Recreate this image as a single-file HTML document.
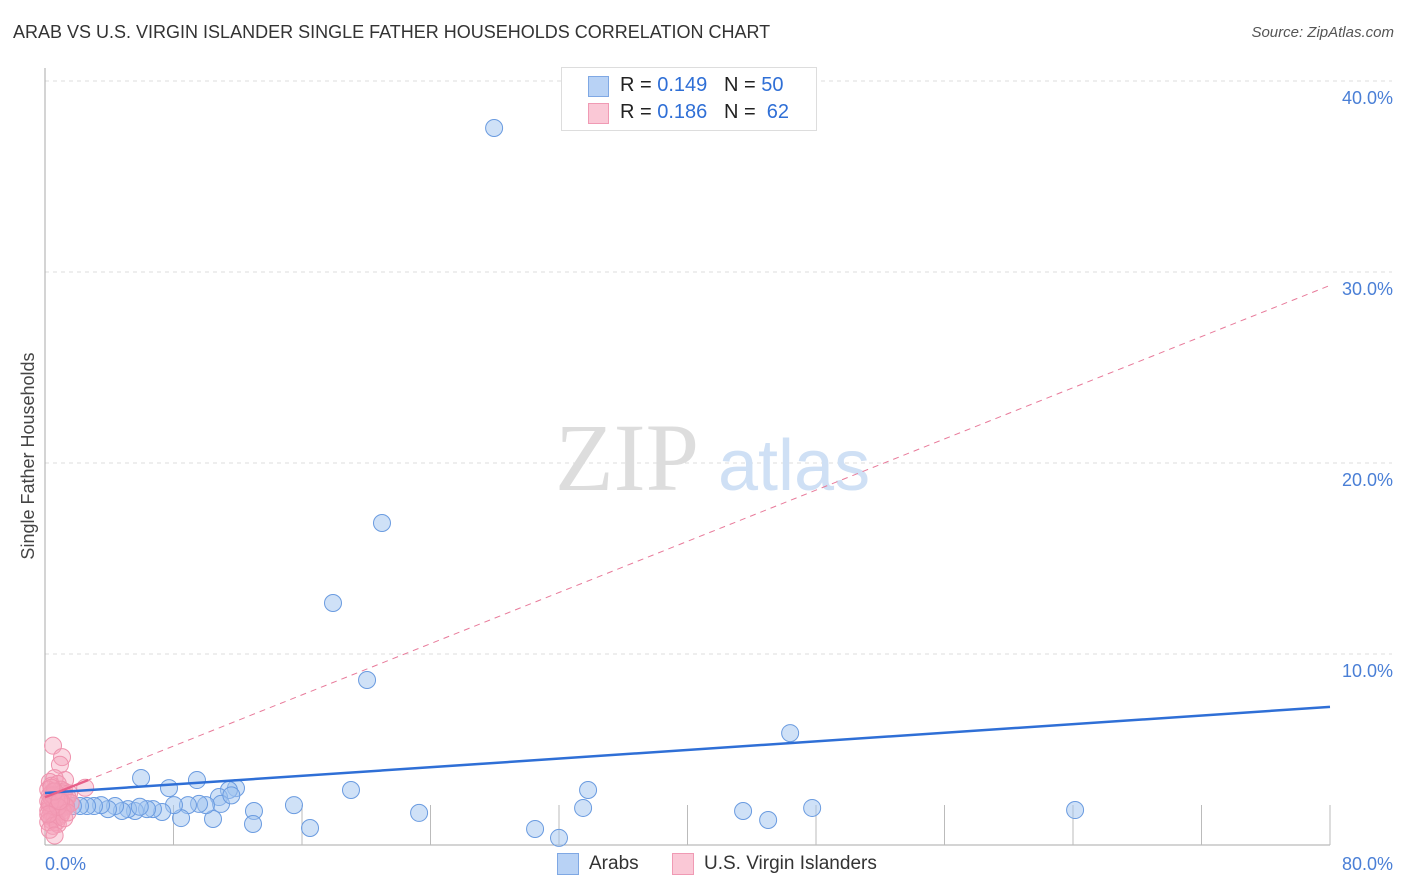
<!DOCTYPE html>
<html><head><meta charset="utf-8"><style>
body{margin:0;background:#fff;font-family:"Liberation Sans",sans-serif;}
#wrap{position:relative;width:1406px;height:892px;overflow:hidden;}
.t{position:absolute;white-space:nowrap;}
</style></head><body>
<div id="wrap">
<div class="t" style="left:13px;top:22px;font-size:18px;color:#333;">ARAB VS U.S. VIRGIN ISLANDER SINGLE FATHER HOUSEHOLDS CORRELATION CHART</div>
<div class="t" style="right:12px;top:24px;font-size:15px;color:#555;font-style:italic;">Source: ZipAtlas.com</div>
<svg id="svg" width="1406" height="892" style="position:absolute;left:0;top:0"></svg>
</div>
<script>
const xTicks=[0,8,16,24,32,40,48,56,64,72,80];
const yTicks=[10,20,30,40];
const arabX=[27.96,20.98,17.93,20.05,46.39,64.13,47.76,43.46,45.02,33.81,33.5,30.51,32.0,23.29,19.05,16.5,15.5,13.01,12.95,11.89,11.45,10.83,10.96,10.46,10.02,9.59,9.46,8.9,8.47,8.03,7.72,7.29,6.72,6.35,5.98,5.6,5.17,4.79,4.36,3.92,3.49,3.05,2.62,2.18,1.74,1.31,0.93,0.62,5.9,11.6];
const arabY=[37.54,16.86,12.67,8.64,5.86,1.83,1.94,1.78,1.31,2.88,1.94,0.84,0.37,1.68,2.88,0.89,2.09,1.78,1.1,2.98,2.88,2.51,2.15,1.36,2.09,2.15,3.4,2.09,1.41,2.09,2.98,1.73,1.88,1.88,3.51,1.78,1.88,1.78,2.04,1.88,2.09,2.04,2.04,2.04,2.04,2.04,2.25,2.09,2.0,2.6];
const vX=[0.5,1.06,0.93,2.5,1.25,0.6,0.3,0.4,0.8,1.0,1.2,1.5,0.2,0.5,0.7,0.9,1.1,1.3,0.3,0.6,0.8,1.0,1.4,0.2,0.4,0.6,0.9,1.2,1.6,0.3,0.5,0.7,1.0,1.3,0.2,0.4,0.8,1.1,0.5,0.9,0.3,0.6,1.0,0.4,0.7,0.2,0.5,0.8,1.2,0.3,0.6,1.0,0.4,0.7,0.5,0.3,0.8,0.6,0.4,1.4,0.2,0.9];
const vY=[5.2,4.6,4.2,3.0,3.4,3.5,3.3,3.1,3.2,2.9,2.8,2.7,2.9,2.8,2.6,2.5,2.7,2.4,2.6,2.4,2.3,2.2,2.5,2.3,2.2,2.1,2.0,2.1,2.2,2.0,1.9,1.8,1.9,2.0,1.8,1.7,1.7,1.8,1.6,1.5,1.5,1.4,1.6,1.3,1.2,1.2,1.0,1.1,1.4,0.8,0.5,2.3,2.5,2.4,2.6,2.2,2.0,2.8,3.0,1.7,1.6,2.3];
const arabLine=[2.72,7.23];
const viLine=[2.5,29.3];
const svg=document.getElementById('svg');
const NS='http://www.w3.org/2000/svg';
const X=v=>45+v/80*1285, Y=v=>845-v*19.1;
function mk(tag,a){const e=document.createElementNS(NS,tag);for(const k in a)e.setAttribute(k,a[k]);svg.appendChild(e);return e;}
let e;
for(const t of yTicks){
 e=mk('line',{x1:45,x2:1392,y1:Y(t),y2:Y(t),stroke:'#ddd','stroke-dasharray':'4,4'});
 
 
 e=mk('text',{x:1393,y:Y(t)+23,'text-anchor':'end','font-size':18,fill:'#4a7fd6','font-family':'Liberation Sans'});
 e.textContent=t.toFixed(1)+'%';
 
 
}
e=mk('line',{x1:45,x2:45,y1:68,y2:845,stroke:'#aaa'});


e=mk('line',{x1:45,x2:1330,y1:845,y2:845,stroke:'#aaa'});


for(const t of xTicks.slice(1)){
 e=mk('line',{x1:X(t),x2:X(t),y1:805,y2:845,stroke:'#bbb'});
 
 
}
e=mk('text',{x:45,y:870,'font-size':18,fill:'#4a7fd6','font-family':'Liberation Sans'});e.textContent=xTicks[0].toFixed(1)+'%';


e=mk('text',{x:1393,y:870,'text-anchor':'end','font-size':18,fill:'#4a7fd6','font-family':'Liberation Sans'});e.textContent=xTicks[xTicks.length-1].toFixed(1)+'%';


e=mk('text',{x:0,y:0,'font-size':18,fill:'#444','font-family':'Liberation Sans','text-anchor':'middle',transform:'translate(34,456) rotate(-90)'});e.textContent='Single Father Households';


e=mk('text',{x:555,y:490,'font-size':96,fill:'#ddd','font-family':'Liberation Serif'});e.textContent='ZIP';


e=mk('text',{x:718,y:490,'font-size':72,fill:'#cfe0f5','font-family':'Liberation Sans'});e.textContent='atlas';


e=mk('line',{x1:X(0),y1:Y(viLine[0]),x2:X(80),y2:Y(viLine[1]),stroke:'#e87a9a','stroke-dasharray':'6,5','stroke-width':1});


for(let i=0;i<arabX.length;i++){
 e=mk('circle',{cx:X(arabX[i]),cy:Y(arabY[i]),r:8.5,fill:'rgba(160,195,240,0.5)',stroke:'#6a9be0','stroke-width':1});
 
 
}
for(let i=0;i<vX.length;i++){
 e=mk('circle',{cx:X(vX[i]),cy:Y(vY[i]),r:8.5,fill:'rgba(245,160,185,0.4)',stroke:'#ef93ae','stroke-width':1});
 
 
}
e=mk('line',{x1:X(0),y1:Y(arabLine[0]),x2:X(80),y2:Y(arabLine[1]),stroke:'#2f6fd6','stroke-width':2.5});


e=mk('line',{x1:X(0),y1:Y(viLine[0]),x2:X(2.7),y2:Y(viLine[0]+(viLine[1]-viLine[0])*2.7/80),stroke:'#e8608a','stroke-width':2.5});


</script>
<div class="t" style="left:561px;top:67px;width:254px;height:62px;border:1px solid #ddd;background:#fff;"></div>
<div class="t" style="left:588px;top:76px;width:19px;height:19px;background:#b8d2f5;border:1px solid #7fa8e4;"></div>
<div class="t" style="left:620px;top:74px;font-size:20px;color:#222;">R = <span style="color:#2f6fd6">0.149</span>&nbsp;&nbsp;&nbsp;N = <span style="color:#2f6fd6">50</span></div>
<div class="t" style="left:588px;top:103px;width:19px;height:19px;background:#fac8d6;border:1px solid #f09ab4;"></div>
<div class="t" style="left:620px;top:101px;font-size:20px;color:#222;">R = <span style="color:#2f6fd6">0.186</span>&nbsp;&nbsp;&nbsp;N = &nbsp;<span style="color:#2f6fd6">62</span></div>
<div class="t" style="left:557px;top:853px;width:20px;height:20px;background:#b8d2f5;border:1px solid #7fa8e4;"></div>
<div class="t" style="left:589px;top:853px;font-size:19px;color:#333;">Arabs</div>
<div class="t" style="left:672px;top:853px;width:20px;height:20px;background:#fac8d6;border:1px solid #f09ab4;"></div>
<div class="t" style="left:704px;top:853px;font-size:19px;color:#333;">U.S. Virgin Islanders</div>
</body></html>
